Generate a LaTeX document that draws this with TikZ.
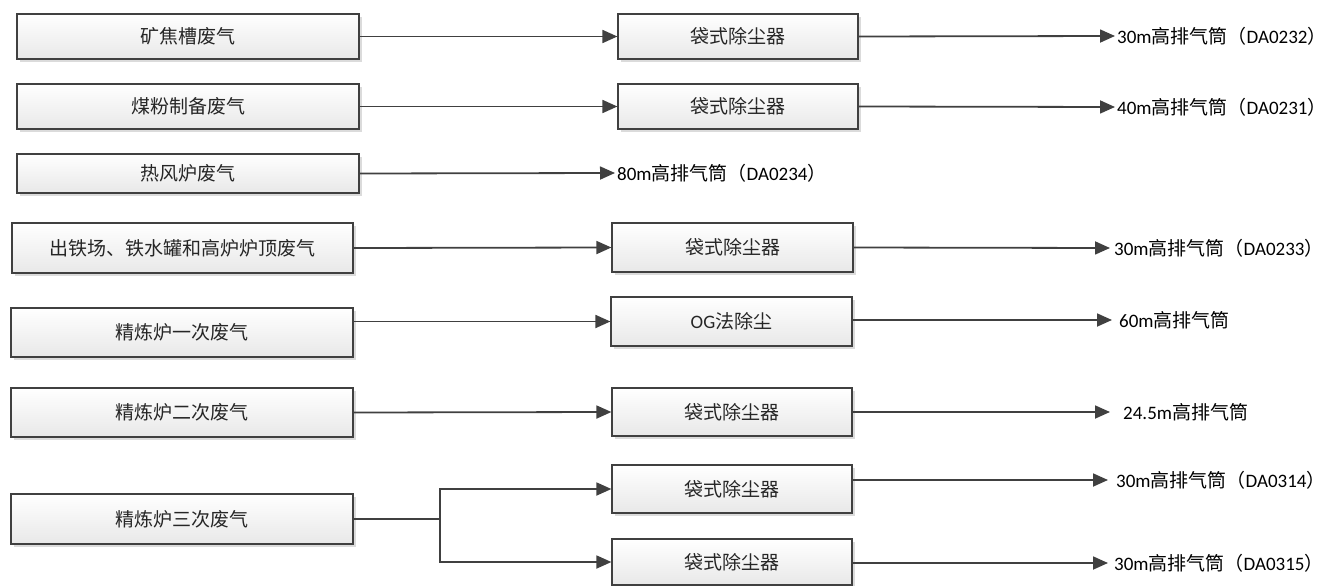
\documentclass[tikz,border=0pt]{standalone}
\usepackage{fontspec}
\setmainfont{Carlito}
\newfontfamily\cjk{Noto Sans CJK SC}
\usetikzlibrary{arrows.meta,shadows}
\tikzset{
  box/.style={draw=black!75, line width=1.2pt, top color=white, bottom color=black!9,
    drop shadow={shadow xshift=3pt, shadow yshift=-3pt, fill=black!14, opacity=1},
    inner sep=0pt, font=\fontsize{19}{23}\selectfont\cjk, text=black!85},
  lbl/.style={anchor=west, inner ysep=0pt, font=\fontsize{19}{23}\selectfont, text=black},
  conn/.style={draw=black!75, line width=1.8pt},
  arr/.style={conn, -{Triangle[length=15pt,width=13pt]}}
}
\begin{document}
\begin{tikzpicture}[x=1pt,y=-1pt]
\useasboundingbox (0,0) rectangle (1330,586);
% left boxes
\node[box, minimum width=342pt, minimum height=45pt] (L1) at (188,36.5) {矿焦槽废气};
\node[box, minimum width=342pt, minimum height=45pt] (L2) at (188,106.5) {煤粉制备废气};
\node[box, minimum width=342pt, minimum height=39pt] (L3) at (188,173.5) {热风炉废气};
\node[box, minimum width=341pt, minimum height=50pt] (L4) at (182.5,248) {出铁场、铁水罐和高炉炉顶废气};
\node[box, minimum width=342pt, minimum height=49pt] (L5) at (182,332.5) {精炼炉一次废气};
\node[box, minimum width=342pt, minimum height=49pt] (L6) at (182,412.5) {精炼炉二次废气};
\node[box, minimum width=342pt, minimum height=50pt] (L7) at (182,519) {精炼炉三次废气};
% middle boxes
\node[box, minimum width=240pt, minimum height=45pt] (M1) at (738,36.5) {袋式除尘器};
\node[box, minimum width=240pt, minimum height=45pt] (M2) at (738,106.5) {袋式除尘器};
\node[box, minimum width=241pt, minimum height=49pt] (M4) at (732.5,247.5) {袋式除尘器};
\node[box, minimum width=241pt, minimum height=49pt] (M5) at (731.5,321.5) {{\rmfamily OG}法除尘};
\node[box, minimum width=240pt, minimum height=48pt] (M6) at (732,412) {袋式除尘器};
\node[box, minimum width=240pt, minimum height=48pt] (M7a) at (732,489) {袋式除尘器};
\node[box, minimum width=240pt, minimum height=46pt] (M7b) at (732,562) {袋式除尘器};
% outlet labels
\node[lbl, inner xsep=2pt] (T1) at (1115,36) {30m{\cjk 高排气筒（}DA0232{\cjk ）}};
\node[lbl, inner xsep=2pt] (T2) at (1115,107) {40m{\cjk 高排气筒（}DA0231{\cjk ）}};
\node[lbl, inner xsep=2pt] (T3) at (615,173) {80m{\cjk 高排气筒（}DA0234{\cjk ）}};
\node[lbl, inner xsep=4pt] (T4) at (1110,248) {30m{\cjk 高排气筒（}DA0233{\cjk ）}};
\node[lbl, inner xsep=7pt] (T5) at (1112,320) {60m{\cjk 高排气筒}};
\node[lbl, inner xsep=13pt] (T6) at (1110,412) {24.5m{\cjk 高排气筒}};
\node[lbl, inner xsep=8pt] (T7a) at (1108,480) {30m{\cjk 高排气筒（}DA0314{\cjk ）}};
\node[lbl, inner xsep=6pt] (T7b) at (1108,563) {30m{\cjk 高排气筒（}DA0315{\cjk ）}};
% connectors
\draw[arr] (L1.east) -- (M1.west);
\draw[arr] (M1.east) -- (T1.west);
\draw[arr] (L2.east) -- (M2.west);
\draw[arr] (M2.east) -- (T2.west);
\draw[arr] (L3.east) -- (T3.west);
\draw[arr] (L4.east) -- (M4.west);
\draw[arr] (M4.east) -- (T4.west);
\draw[arr] (L5.east |- M5.west) -- (M5.west);
\draw[arr] (M5.east |- T5.west) -- (T5.west);
\draw[arr] (L6.east) -- (M6.west);
\draw[arr] (M6.east |- T6.west) -- (T6.west);
\coordinate (B) at (440,519);
\draw[conn] (L7.east) -- (B);
\draw[arr] (B) |- (M7a.west);
\draw[arr] (B) |- (M7b.west);
\draw[arr] (M7a.east |- T7a.west) -- (T7a.west);
\draw[arr] (M7b.east |- T7b.west) -- (T7b.west);
\end{tikzpicture}
\end{document}
